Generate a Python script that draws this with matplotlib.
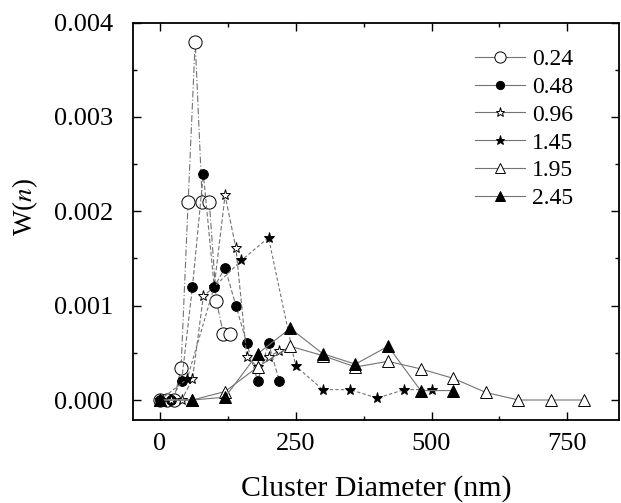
import numpy as np
import matplotlib
matplotlib.use("Agg")
import matplotlib.pyplot as plt
from matplotlib.lines import Line2D
from matplotlib.ticker import MultipleLocator

plt.rcParams['font.family'] = ['Liberation Serif', 'DejaVu Serif']
plt.rcParams['mathtext.fontset'] = 'stix'

# data: cluster diameter (nm) vs W(n)
x_024 = [0, 13, 26, 39, 52, 65, 78, 91, 104, 117, 130]
y_024 = [0, 0, 0, 0.00034, 0.0021, 0.0038, 0.0021, 0.0021, 0.00105, 0.0007, 0.0007]

x_048 = [0, 20, 40, 60, 80, 100, 120, 140, 160, 180, 200, 220]
y_048 = [0, 0, 0.0002, 0.0012, 0.0024, 0.0012, 0.0014, 0.001, 0.0006, 0.0002, 0.0006, 0.0002]

x_096 = [0, 20, 40, 60, 80, 100, 120, 140, 160, 180, 200, 220]
y_096 = [0, 0, 0, 0.00022, 0.0011, 0.0012, 0.00217, 0.00161, 0.00046, 0.00035, 0.00046, 0.00052]

x_145 = [0, 50, 100, 150, 200, 250, 300, 350, 400, 450, 500]
y_145 = [0, 0.00022, 0.0012, 0.00148, 0.00172, 0.00036, 0.00011, 0.00011, 0.00002, 0.00011, 0.00011]

x_195 = [0, 60, 120, 180, 240, 300, 360, 420, 480, 540, 600, 660, 720, 780]
y_195 = [0, 0, 0.00009, 0.00035, 0.00057, 0.00047, 0.00035, 0.00041, 0.00033, 0.00023, 0.00008, 0, 0, 0]

x_245 = [0, 60, 120, 180, 240, 300, 360, 420, 480, 540]
y_245 = [0, 0, 0.00003, 0.00049, 0.00076, 0.00049, 0.00038, 0.00057, 0.0001, 0.0001]

labels = ['0.24', '0.48', '0.96', '1.45', '1.95', '2.45']

series = [
    (x_024, y_024, 'o', 'white', 9.5, (0, (6, 2, 1, 2))),
    (x_048, y_048, 'o', 'black', 7, (0, (4, 2))),
    (x_096, y_096, '*', 'white', 8, (0, (4, 2))),
    (x_145, y_145, '*', 'black', 8, (0, (3, 2))),
    (x_195, y_195, '^', 'white', 8, '-'),
    (x_245, y_245, '^', 'black', 8, '-'),
]

fig = plt.figure(figsize=(6.21, 5.03), dpi=100)
ax = fig.add_axes([0.2137, 0.165, 0.783, 0.79])

for x, y, m, fc, ms, ls in series:
    ax.plot(x, y, linestyle=ls, color='0.45', linewidth=0.8,
            marker=m, markerfacecolor=fc, markeredgecolor='black',
            markeredgewidth=0.7, markersize=ms)

handles = [Line2D([], [], color='0.45', linewidth=0.8, marker=m,
                  markerfacecolor=fc, markeredgecolor='black',
                  markeredgewidth=0.7, markersize=ms * 0.85)
           for x, y, m, fc, ms, ls in series]
ax.legend(handles, labels, loc='upper right', bbox_to_anchor=(0.93, 0.965),
          frameon=False, fontsize=17, handlelength=2.1, handletextpad=0.3,
          labelspacing=0.27, borderpad=0)

ax.set_xlim(-50, 845)
ax.set_ylim(-0.000212, 0.004)
ax.xaxis.set_major_locator(MultipleLocator(250))
ax.xaxis.set_minor_locator(MultipleLocator(125))
ax.yaxis.set_major_locator(MultipleLocator(0.001))
ax.yaxis.set_minor_locator(MultipleLocator(0.0005))
ax.yaxis.set_major_formatter(plt.FormatStrFormatter('%.3f'))
ax.tick_params(which='both', direction='in', top=True, right=True,
               labelsize=19, width=1.0)
ax.tick_params(axis='x', which='major', length=6, pad=9)
ax.tick_params(axis='y', which='major', length=6, pad=14)
ax.tick_params(which='minor', length=3)
for s in ax.spines.values():
    s.set_linewidth(1.3)

ax.set_xlabel('Cluster Diameter (nm)', fontsize=21.5, labelpad=15)
ax.set_ylabel('W($n$)', fontsize=19.5)
ax.yaxis.set_label_coords(-0.19, 0.535)

fig.savefig('out.png', dpi=100)
